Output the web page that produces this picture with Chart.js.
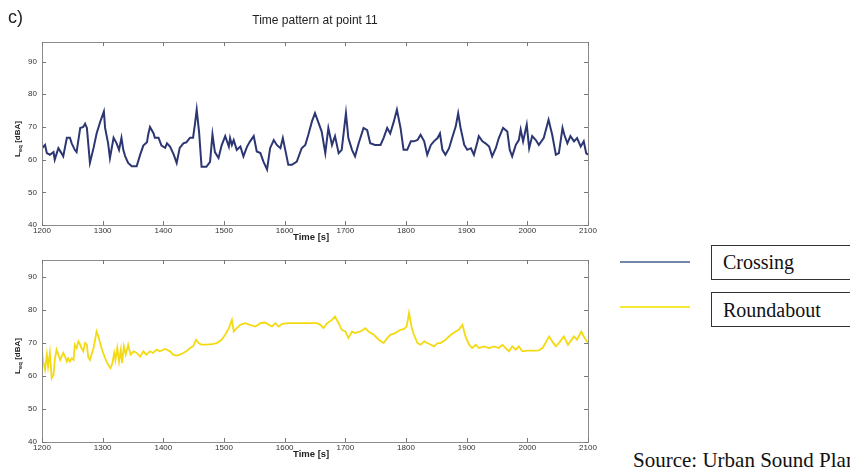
<!DOCTYPE html>
<html>
<head>
<meta charset="utf-8">
<script src="https://cdn.jsdelivr.net/npm/chart.js@4.4.1/dist/chart.umd.min.js"></script>
<style>
  html, body { margin: 0; padding: 0; background: #fff; }
  #page { position: relative; width: 850px; height: 473px; overflow: hidden; background: #fff; }
  canvas { position: absolute; left: 0; }
  .abs { position: absolute; white-space: nowrap; }
  .sans { font-family: "Liberation Sans", Arial, sans-serif; color: #222; }
  .serif { font-family: "Liberation Serif", "Times New Roman", serif; color: #111; }
  .ylab { font-size: 8px; font-weight: bold; transform: translate(-50%, -50%) rotate(-90deg); transform-origin: center; }
  .ylab sub { font-size: 6px; vertical-align: -2px; }
  .xlab { font-size: 9.5px; font-weight: bold; }
  .legline { position: absolute; left: 620px; width: 70px; height: 2px; }
  .legbox { position: absolute; left: 711px; width: 160px; height: 35px; border: 1px solid #333; box-sizing: border-box; }
  .legtext { font-size: 20px; line-height: 20px; }
</style>
</head>
<body>
<div id="page">
  <canvas id="crossingChart" width="600" height="245" style="top:0px"></canvas>
  <canvas id="roundaboutChart" width="600" height="217" style="top:245px"></canvas>

  <div class="abs sans" style="left:8px; top:6px; font-size:18px; line-height:22px;">c)</div>
  <div class="abs sans" id="title" style="left:315px; top:13px; font-size:12px; line-height:14px; transform:translateX(-50%);">Time pattern at point 11</div>

  <div class="abs sans ylab" style="left:18px; top:139px;">L<sub>eq</sub> [dBA]</div>
  <div class="abs sans ylab" style="left:18px; top:356px;">L<sub>eq</sub> [dBA]</div>
  <div class="abs sans xlab" style="left:293px; top:231px;">Time [s]</div>
  <div class="abs sans xlab" style="left:293px; top:448px;">Time [s]</div>

  <div class="legline" style="top:261px; background:#7486aa;"></div>
  <div class="legline" style="top:306px; background:#f2ea36;"></div>
  <div class="legbox" style="top:245px;"></div>
  <div class="legbox" style="top:292px;"></div>
  <div class="abs serif legtext" style="left:723px; top:252px;">Crossing</div>
  <div class="abs serif legtext" style="left:723px; top:300px;">Roundabout</div>
  <div class="abs serif legtext" style="left:633px; top:450px; font-size:21px;">Source: Urban Sound Plan</div>
</div>

<script>
// Axis ticks
const timeTicks = [1200, 1300, 1400, 1500, 1600, 1700, 1800, 1900, 2000, 2100];
const levelTicks = [40, 50, 60, 70, 80, 90];

// Crossing: time [s] and Leq [dBA]
const crossingTime = [
  1200,1205,1208,1213,1219,1221,1227,1232,1235,1241,1246,1249,1254,1257,1263,1268,1271,1274,1279,1285,
  1290,1296,1302,1304,1309,1312,1318,1323,1327,1331,1334,1337,1342,1348,1356,1362,1367,1373,1375,1378,
  1384,1386,1392,1397,1403,1406,1411,1417,1422,1427,1433,1438,1444,1449,1452,1455,1459,1463,1471,1477,
  1481,1485,1491,1496,
  1502,1508,1510,1513,1516,1521,1527,1532,1538,1543,1549,1554,1560,1565,1571,1576,1582,1587,1593,1597,
  1601,1606,1612,1620,1628,1634,1639,1645,1650,1656,1661,1667,1672,1678,1683,1689,1694,1701,1705,1711,
  1716,1722,1730,1736,1741,1749,1758,1763,1769,1774,1780,1785,1791,1796,
  1802,1808,1813,1819,1824,1830,1835,1841,1846,1852,1856,1860,1865,1871,1876,1882,1886,1890,1896,1901,
  1907,1912,1918,1920,1926,1931,1937,1942,1948,1953,1960,1967,1971,1975,1981,1986,1989,1993,1999,2003,
  2008,2014,2019,2027,2035,2041,2047,2052,2058,2061,2066,2071,2077,2082,2088,2093,2097,2100
];
const crossingLeq = [
  63.5,64.5,62,61.5,62.3,60,63.5,62,61,66.7,66.7,65,63,62.3,69.7,70,71,69.7,59,63.6,
  68,71.6,74.7,69.7,65,60.5,66.7,65,63,66.7,63,61.1,59,58,58,61.6,64.3,65.3,67.6,70,
  68,66.7,66.7,64.3,63.6,65,64,61.6,59,63.6,65,65.3,66.7,66.7,70.7,75.3,68.3,57.8,57.8,59.3,
  67.7,62.3,60.5,64.3,
  67.2,64,66.6,64.5,66,63,64,61,64,65.6,67.2,62.5,62,59.4,57,63.5,66,64.5,63.5,66.6,
  63,58.4,58.4,59.4,63.5,64.5,67.6,71.7,74.2,71.2,68.6,62,69.7,64.5,67.2,62,63,74.2,66.6,63,
  61,65,69.7,69,65,64.5,64.5,66.6,69.7,68,71.7,75.3,69.7,63,
  63,65.6,65.6,66,67.6,65.6,61.5,64.5,65.6,66.6,68,63,61.5,63.5,66.6,70.2,74.2,69.7,64.5,63,
  63.5,61.5,65.6,67.2,65.6,65,64,61,63.5,66.6,69.7,68.6,63,61,64.5,66,69.2,65.6,70.7,63.5,
  67.2,66,64.5,66.6,72.2,67.6,61.5,62,69.7,67.6,65,67.2,65.6,66.6,64,65.6,62,61.5
];

// Roundabout: time [s] and Leq [dBA]
const roundaboutTime = [
  1200,1202,1205,1208,1210,1213,1216,1219,1221,1224,1227,1230,1235,1238,1241,1243,1246,1249,1252,1254,
  1257,1260,1263,1265,1268,1271,1274,1276,1279,1285,1290,1293,1298,1304,1309,1313,1316,1319,1321,1324,
  1327,1330,1332,1335,1338,1342,1346,1351,1356,1362,1367,1372,1378,1383,1389,1394,1403,1411,1416,1422,
  1427,1433,1438,1444,1449,1454,1458,1463,1471,1480,1488,1496,
  1502,1508,1513,1516,1521,1527,1535,1543,1552,1560,1568,1574,1579,1585,1590,1596,1607,1623,1639,1653,
  1659,1664,1670,1678,1683,1689,1694,1700,1705,1711,1716,1725,1733,1738,1747,1755,1763,1769,1774,1782,
  1791,1797,
  1801,1805,1809,1813,1819,1824,1830,1835,1841,1846,1852,1857,1865,1874,1882,1887,1893,1898,1904,1909,
  1915,1920,1929,1937,1945,1953,1959,1964,1970,1975,1981,1986,1992,2000,2011,2019,2025,2030,2036,2041,
  2047,2052,2060,2067,2071,2077,2082,2089,2093,2100
];
const roundaboutLeq = [
  67.4,64.3,61.8,66.4,62.8,66.9,59.3,60.3,64.8,67.9,66.4,64.8,66.9,65.8,64.3,65.3,64.3,65.3,64.8,69.4,
  68.4,70.4,69.4,68.4,67.4,69.9,69.4,65.8,64.8,68.4,73.4,71.9,68.4,65.3,63.3,62.3,63.8,66.9,64.8,68.4,
  64.3,67.9,63.8,68.9,66.4,69.4,66.4,67.4,66.9,65.8,67.4,66.4,67.4,66.9,67.9,67.4,68.1,67.4,66.4,66.1,
  66.4,66.9,67.4,68.4,68.9,70.9,69.9,69.4,69.4,69.6,69.9,70.9,
  72.4,74.4,76.9,73.4,74.4,75.4,75.9,75.4,74.9,75.9,76.1,75.4,74.9,75.9,74.9,75.7,75.9,75.9,75.9,75.9,
  75.4,74.4,75.9,76.9,77.9,75.9,73.9,73.4,71.4,73.4,72.9,73.4,74.4,73.4,72.4,70.9,69.9,71.4,72.4,72.9,
  73.9,74.2,
  74.9,79,74.9,72.4,69.9,69.4,70.4,69.9,69.4,68.9,69.9,69.9,70.9,72.4,73.4,73.9,75.4,71.9,69.4,68.4,
  69.4,68.4,68.9,68.4,68.9,68.4,69.4,68.4,67.4,68.9,67.9,68.9,67.4,67.6,67.6,67.7,68.4,69.9,71.9,70.4,
  68.9,69.9,71.9,69.4,70.4,71.9,70.9,73.4,71.9,69.9
];

// Box frame with inward ticks on all four sides
const boxFrame = {
  id: 'boxFrame',
  afterDraw(chart) {
    const { ctx, chartArea: a, scales } = chart;
    ctx.save();
    ctx.strokeStyle = '#8c8c8c';
    ctx.lineWidth = 1;
    ctx.strokeRect(a.left + 0.5, a.top + 0.5, a.right - a.left, a.bottom - a.top);
    ctx.strokeStyle = '#777';
    ctx.beginPath();
    const len = 4;
    scales.x.ticks.forEach(t => {
      const px = Math.round(scales.x.getPixelForValue(t.value)) + 0.5;
      ctx.moveTo(px, a.bottom); ctx.lineTo(px, a.bottom - len);
      ctx.moveTo(px, a.top); ctx.lineTo(px, a.top + len);
    });
    scales.y.ticks.forEach(t => {
      const py = Math.round(scales.y.getPixelForValue(t.value)) + 0.5;
      ctx.moveTo(a.left, py); ctx.lineTo(a.left + len, py);
      ctx.moveTo(a.right, py); ctx.lineTo(a.right - len, py);
    });
    ctx.stroke();
    ctx.restore();
  }
};

function makeChart(id, times, values, color, width, yMax, padTop) {
  return new Chart(document.getElementById(id), {
    type: 'line',
    data: {
      datasets: [{
        data: times.map((t, i) => ({ x: t, y: values[i] })),
        borderColor: color,
        borderWidth: width,
        pointRadius: 0,
        tension: 0,
        fill: false
      }]
    },
    options: {
      responsive: false,
      animation: false,
      layout: { padding: { top: padTop, right: 12, left: 0, bottom: 0 } },
      plugins: { legend: { display: false }, tooltip: { enabled: false }, title: { display: false } },
      scales: {
        x: {
          type: 'linear', min: 1200, max: 2100,
          afterBuildTicks: s => { s.ticks = timeTicks.map(v => ({ value: v })); },
          afterFit: s => { s.height = 20; },
          grid: { display: false, drawTicks: false },
          border: { display: false },
          ticks: {
            font: { family: 'Liberation Sans', size: 8 }, color: '#333', padding: 1,
            maxRotation: 0, autoSkip: false, callback: v => String(v)
          }
        },
        y: {
          min: 40, max: yMax,
          afterBuildTicks: s => { s.ticks = levelTicks.map(v => ({ value: v })); },
          afterFit: s => { s.width = 42; },
          grid: { display: false, drawTicks: false },
          border: { display: false },
          ticks: { font: { family: 'Liberation Sans', size: 8 }, color: '#333', padding: 5, callback: v => String(v) }
        }
      }
    },
    plugins: [boxFrame]
  });
}

makeChart('crossingChart', crossingTime, crossingLeq, '#2c3672', 2, 96, 42);
makeChart('roundaboutChart', roundaboutTime, roundaboutLeq, '#f4da12', 1.8, 95, 15);
</script>
</body>
</html>
